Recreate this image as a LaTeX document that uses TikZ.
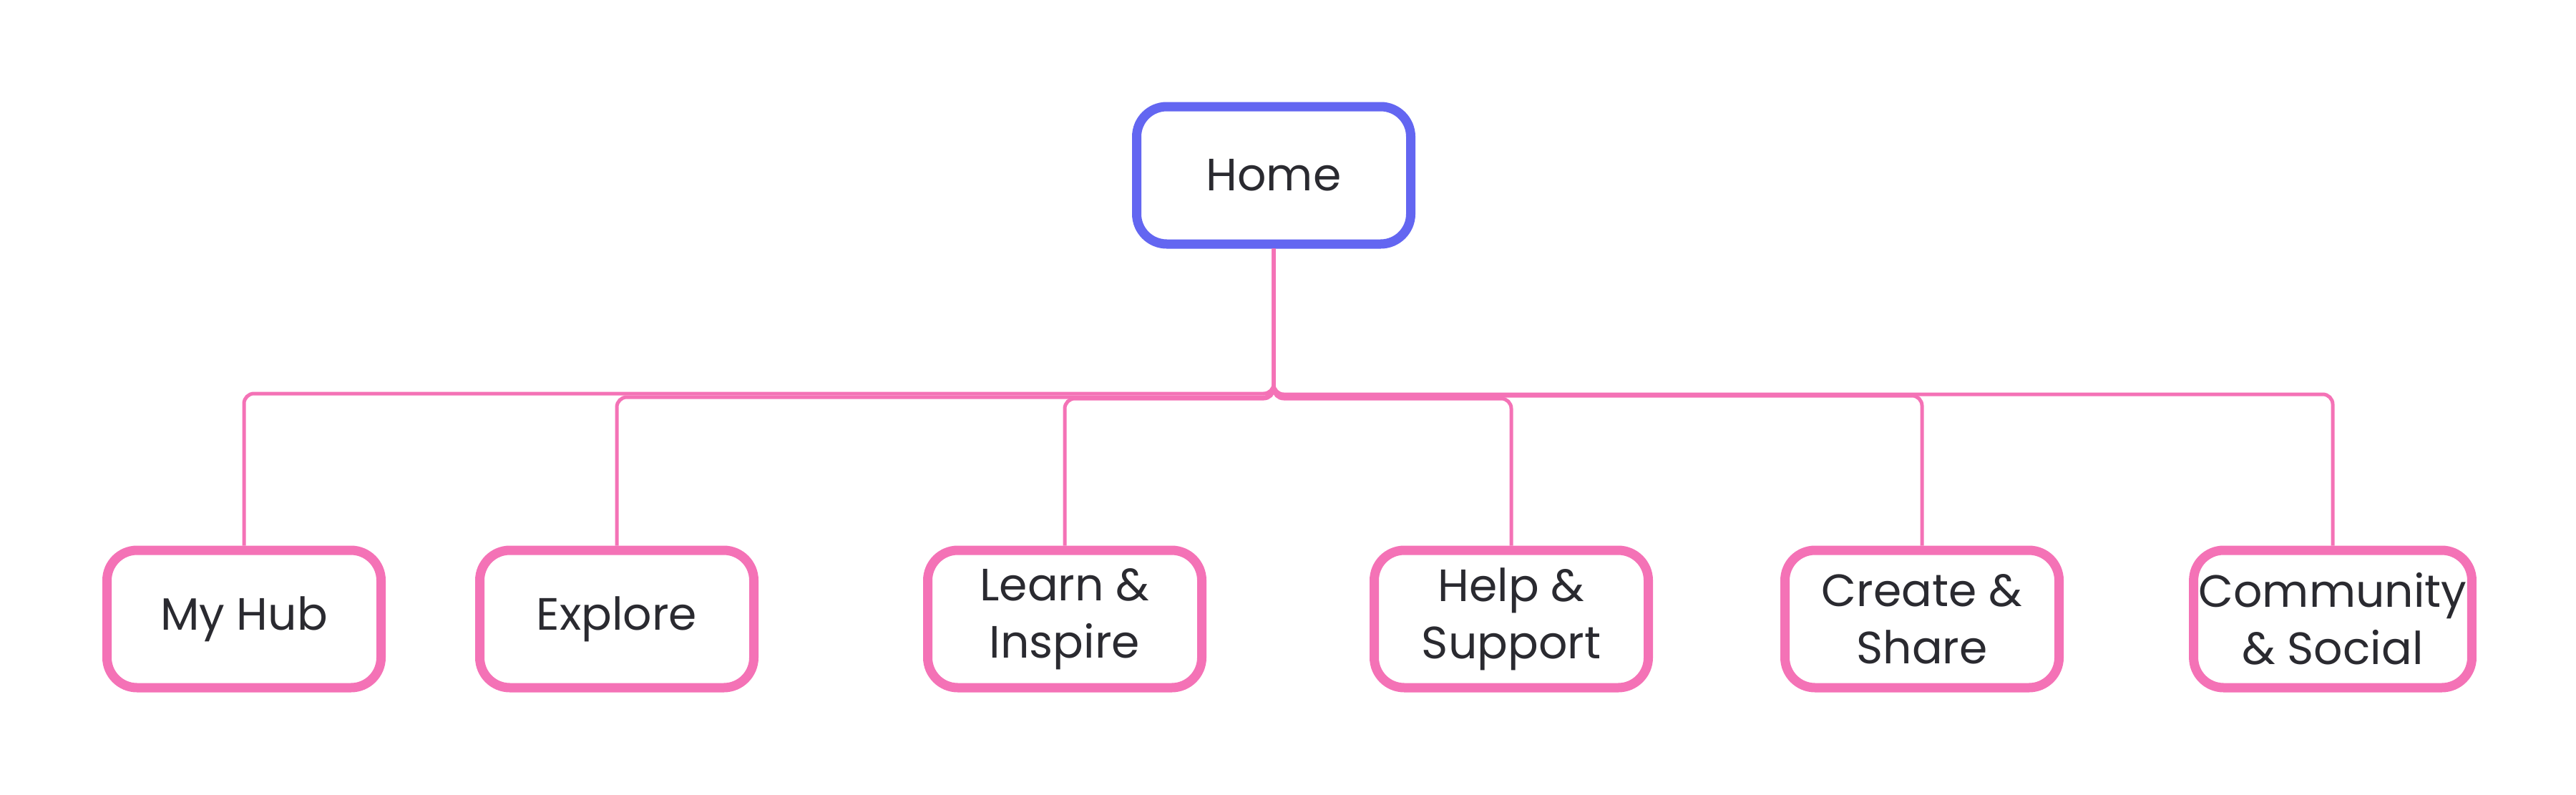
\documentclass[tikz,border=0pt]{standalone}
\usepackage{fontspec}
\setsansfont{Poppins}
\usepackage{xcolor}
\usetikzlibrary{positioning, calc}
\definecolor{rootline}{HTML}{6366F1}
\definecolor{pinkline}{HTML}{F472B6}
\definecolor{ink}{HTML}{2A2A30}

\begin{document}
\begin{tikzpicture}[
  font=\sffamily\fontsize{18}{22.8}\selectfont, text=ink,
  box/.style={rectangle, rounded corners=0.42cm, draw=pinkline, fill=white,
              line width=0.13cm, minimum width=3.83cm, minimum height=1.92cm,
              align=center, inner sep=2pt},
  root/.style={box, draw=rootline},
  link/.style={pinkline, line width=0.05cm, rounded corners=0.14cm}
]
  \useasboundingbox (0,0) rectangle (36,11.1);
  \node[root] (home) at (17.80,8.65) {Home};
  \node[box] (hub)     at (3.41,2.45)  {My Hub};
  \node[box] (explore) at (8.62,2.45)  {Explore};
  \node[box] (learn)   at (14.88,2.45) {Learn \&\\Inspire};
  \node[box] (help)    at (21.12,2.45) {Help \&\\Support};
  \node[box] (create)  at (26.86,2.45) {Create \&\\Share};
  \node[box] (social)  at (32.60,2.45) {Community\\\& Social};
  \foreach \n/\lv in {hub/5.60, explore/5.55, learn/5.53, help/5.53, create/5.57, social/5.59}
    \draw[link] (home.south) |- (\n.north |- 0,\lv) -- (\n.north);
\end{tikzpicture}
\end{document}
